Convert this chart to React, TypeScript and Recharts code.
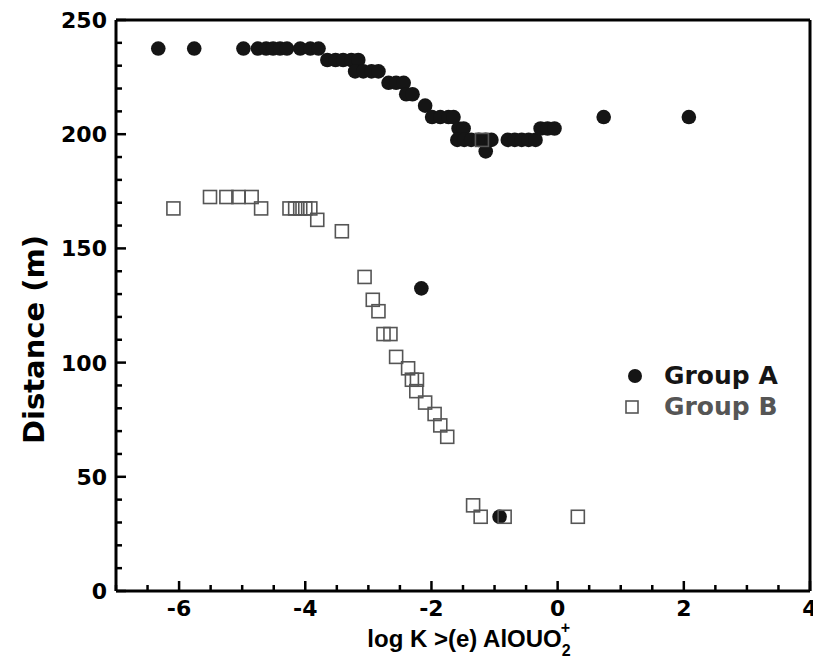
import React from 'react';
import {
  ScatterChart,
  Scatter,
  XAxis,
  YAxis,
  ReferenceLine,
  Legend,
} from 'recharts';

// Group A (filled circles)
const groupAX = [
  -6.33, -5.76, -4.98, -4.75, -4.62, -4.51, -4.4, -4.29, -4.08, -3.92, -3.79,
  -3.65, -3.52, -3.4, -3.27, -3.16,
  -3.21, -3.08, -2.95, -2.84,
  -2.68, -2.56, -2.44,
  -2.4, -2.3,
  -2.1,
  -1.99, -1.86, -1.73, -1.65,
  -1.57, -1.49,
  -1.59, -1.48, -1.37, -1.25, -1.14, -1.05, -0.79, -0.68, -0.57, -0.46, -0.35,
  -1.14,
  -0.27, -0.16, -0.05,
  0.73, 2.08,
  -2.16, -0.92,
];
const groupAY = [
  237.5, 237.5, 237.5, 237.5, 237.5, 237.5, 237.5, 237.5, 237.5, 237.5, 237.5,
  232.5, 232.5, 232.5, 232.5, 232.5,
  227.5, 227.5, 227.5, 227.5,
  222.5, 222.5, 222.5,
  217.5, 217.5,
  212.5,
  207.5, 207.5, 207.5, 207.5,
  202.5, 202.5,
  197.5, 197.5, 197.5, 197.5, 197.5, 197.5, 197.5, 197.5, 197.5, 197.5, 197.5,
  192.5,
  202.5, 202.5, 202.5,
  207.5, 207.5,
  132.5, 32.5,
];

// Group B (open squares)
const groupBX = [
  -6.09, -5.51, -5.25, -5.06, -4.85, -4.7, -4.25, -4.16, -4.08, -4.0, -3.92,
  -3.81, -3.42, -3.06, -2.93, -2.84, -2.76, -2.65, -2.56, -2.37, -2.31, -2.23,
  -2.24, -2.1, -1.95, -1.86, -1.75, -1.2, -1.34, -1.22, -0.84, 0.32,
];
const groupBY = [
  167.5, 172.5, 172.5, 172.5, 172.5, 167.5, 167.5, 167.5, 167.5, 167.5, 167.5,
  162.5, 157.5, 137.5, 127.5, 122.5, 112.5, 112.5, 102.5, 97.5, 92.5, 92.5,
  87.5, 82.5, 77.5, 72.5, 67.5, 197.5, 37.5, 32.5, 32.5, 32.5,
];

const xTicks = [
  -7, -6.5, -6, -5.5, -5, -4.5, -4, -3.5, -3, -2.5, -2, -1.5, -1, -0.5, 0, 0.5,
  1, 1.5, 2, 2.5, 3, 3.5, 4,
];
const xMajor = [-6, -4, -2, 0, 2, 4];
const yTicks = [
  0, 10, 20, 30, 40, 50, 60, 70, 80, 90, 100, 110, 120, 130, 140, 150, 160, 170,
  180, 190, 200, 210, 220, 230, 240, 250,
];
const yMajor = [0, 50, 100, 150, 200, 250];

const dataA = groupAX.map((x, i) => ({ x, y: groupAY[i] }));
const dataB = groupBX.map((x, i) => ({ x, y: groupBY[i] }));

const WIDE = '"DejaVu Sans", Verdana, sans-serif';
const ARIAL = '"Liberation Sans", Arial, sans-serif';

const XTick = ({ x, y, payload }: any) => {
  const major = xMajor.includes(payload.value);
  return (
    <g>
      <line x1={x} x2={x} y1={y} y2={y - (major ? 10 : 6)} stroke="#000" strokeWidth={2.5} />
      {major && (
        <text x={x} y={y + 25} textAnchor="middle" fontFamily={WIDE} fontWeight="bold" fontSize={22} fill="#000">
          {payload.value}
        </text>
      )}
    </g>
  );
};

const YTick = ({ x, y, payload }: any) => {
  const major = yMajor.includes(payload.value);
  return (
    <g>
      <line x1={x} x2={x + (major ? 10 : 6)} y1={y} y2={y} stroke="#000" strokeWidth={2.5} />
      {major && (
        <text x={x - 9} y={y + 8} textAnchor="end" fontFamily={WIDE} fontWeight="bold" fontSize={22} fill="#000">
          {payload.value}
        </text>
      )}
    </g>
  );
};

const Dot = ({ cx, cy }: any) => <circle cx={cx} cy={cy} r={7.3} fill="#151515" />;
const Box = ({ cx, cy }: any) => (
  <rect x={cx - 6.5} y={cy - 6.5} width={13} height={13} fill="none" stroke="#555" strokeWidth={1.6} />
);

const XTitle = ({ viewBox }: any) => {
  const cx = viewBox.x + viewBox.width / 2 + 6;
  const y = viewBox.y + 56;
  return (
    <text x={cx} y={y} textAnchor="middle" fontFamily={ARIAL} fontWeight="bold" fontSize={24} fill="#000">
      log K &gt;(e) AlOUO
      <tspan fontSize={16} dy={9}>2</tspan>
      <tspan fontSize={16} dx={-10} dy={-23}>+</tspan>
    </text>
  );
};

const YTitle = ({ viewBox }: any) => {
  const cx = 26;
  const cy = viewBox.y + viewBox.height / 2 + 34;
  return (
    <text
      x={cx}
      y={cy}
      transform={`rotate(-90, ${cx}, ${cy})`}
      textAnchor="middle"
      dominantBaseline="central"
      fontFamily={WIDE}
      fontWeight="bold"
      fontSize={29}
      fill="#000"
    >
      Distance (m)
    </text>
  );
};

const LegendBox = () => (
  <div style={{ fontFamily: WIDE, fontWeight: 'bold', fontSize: 25, lineHeight: '31px' }}>
    <div style={{ display: 'flex', alignItems: 'center' }}>
      <svg width={39} height={20}>
        <circle cx={10} cy={10} r={7} fill="#151515" />
      </svg>
      <span style={{ color: '#151515' }}>Group A</span>
    </div>
    <div style={{ display: 'flex', alignItems: 'center' }}>
      <svg width={39} height={20}>
        <rect x={1} y={4} width={12} height={12} fill="none" stroke="#555" strokeWidth={1.6} />
      </svg>
      <span style={{ color: '#555' }}>Group B</span>
    </div>
  </div>
);

export default function App() {
  return (
    <ScatterChart width={813} height={660} margin={{ top: 12, right: 11, bottom: 0, left: 0 }}>
      <XAxis
        type="number"
        dataKey="x"
        domain={[-7, 4]}
        ticks={xTicks}
        allowDataOverflow
        height={77}
        tickSize={0}
        tickMargin={0}
        tickLine={false}
        axisLine={{ stroke: '#000', strokeWidth: 3 }}
        tick={<XTick />}
        interval={0}
        label={<XTitle />}
      />
      <YAxis
        type="number"
        dataKey="y"
        domain={[0, 250]}
        ticks={yTicks}
        allowDataOverflow
        width={108}
        tickSize={0}
        tickMargin={0}
        tickLine={false}
        axisLine={{ stroke: '#000', strokeWidth: 3 }}
        tick={<YTick />}
        interval={0}
        label={<YTitle />}
      />
      <ReferenceLine y={250} stroke="#000" strokeWidth={3} />
      <ReferenceLine x={4} stroke="#000" strokeWidth={3} />
      <Legend
        layout="horizontal"
        verticalAlign="middle"
        align="center"
        wrapperStyle={{ left: 617, top: 352, width: 'auto' }}
        content={<LegendBox />}
      />
      <Scatter name="Group A" data={dataA} shape={<Dot />} isAnimationActive={false} />
      <Scatter name="Group B" data={dataB} shape={<Box />} isAnimationActive={false} />
    </ScatterChart>
  );
}
